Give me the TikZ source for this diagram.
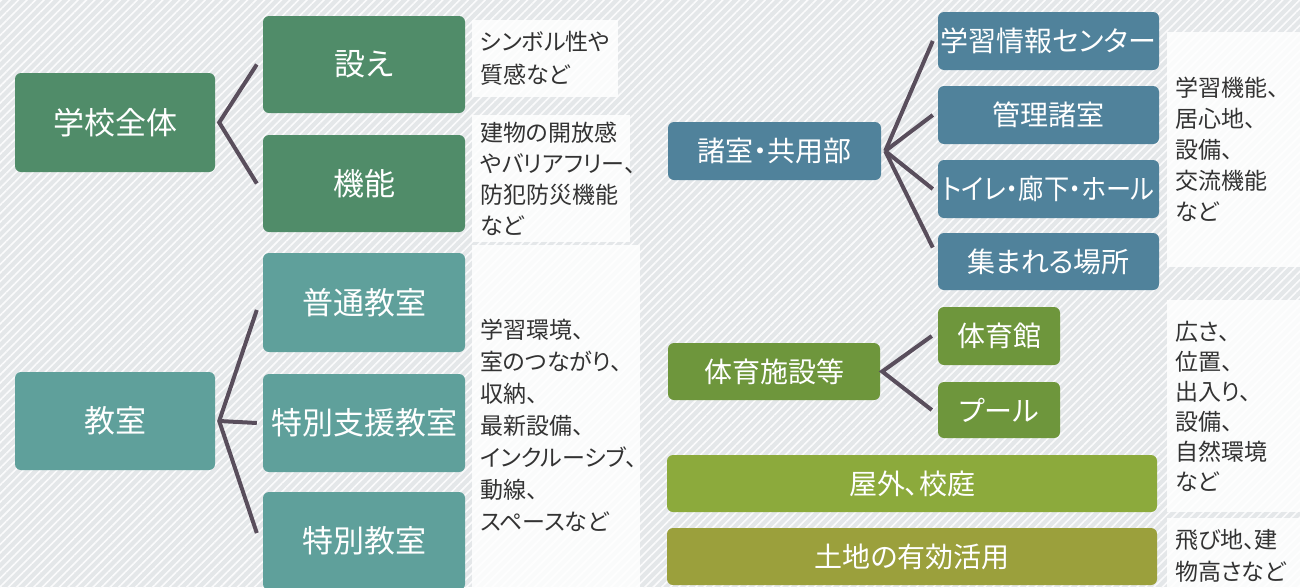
\documentclass[tikz,border=0pt]{standalone}
\usepackage{fontspec}
\usepackage{graphicx}
\usetikzlibrary{patterns.meta}
\newfontfamily\jp{Noto Sans CJK JP}[RawFeature=+palt]
\definecolor{bgcol}{HTML}{E4E7E9}
\definecolor{conncol}{HTML}{594E5C}
\definecolor{txtcol}{HTML}{333333}
\definecolor{schoolcol}{HTML}{508C69}
\definecolor{roomcol}{HTML}{5FA09B}
\definecolor{sharedcol}{HTML}{50829B}
\definecolor{sportcol}{HTML}{6E963C}
\definecolor{yardcol}{HTML}{8CAA3C}
\definecolor{landcol}{HTML}{9BA03C}
\begin{document}
\begin{tikzpicture}[x=1pt,y=-1pt,
box/.style={rounded corners=6pt,text=white,inner sep=0pt,font=\jp\fontsize{31}{36}\selectfont},
rbox/.style={box,font=\jp\fontsize{28}{34}\selectfont},
desc/.style={anchor=north west,fill=white,fill opacity=0.85,text opacity=1,text=txtcol,align=left,inner xsep=8pt,inner ysep=0pt,font=\jp\fontsize{23}{31}\selectfont},
conn/.style={draw=conncol,line width=4pt}]
\useasboundingbox (0,0) rectangle (1300,587);
\fill[bgcol] (0,0) rectangle (1300,587);
\fill[pattern={Lines[angle=45,distance=6pt,line width=1.6pt]},pattern color=white!85!bgcol] (0,0) rectangle (1300,587);
\node[box,fill=schoolcol,minimum width=200,minimum height=99] (whole) at (115,122.5) {学校全体};
\node[box,fill=schoolcol,minimum width=202,minimum height=97] (setsu) at (364,64.5) {設え};
\node[box,fill=schoolcol,minimum width=202,minimum height=97] (kino) at (364,183.5) {機能};
\node[desc,text width=130,minimum height=77,font=\jp\fontsize{23}{33}\selectfont] (d1) at (472,20) {シンボル性や\\質感など};
\node[desc,text width=142,minimum height=127] (d2) at (472,115) {建物の開放感\\やバリアフリー、\\防犯防災機能\\など};
\draw[conn] ([xshift=-6pt]setsu.west) -- ([xshift=4pt]whole.east) -- ([xshift=-6pt]kino.west);
\node[box,fill=roomcol,minimum width=200,minimum height=98] (room) at (115,421) {教室};
\node[box,fill=roomcol,minimum width=202,minimum height=99] (futsu) at (364,302.5) {普通教室};
\node[box,fill=roomcol,minimum width=202,minimum height=98] (shien) at (364,423) {特別支援教室};
\node[box,fill=roomcol,minimum width=202,minimum height=98] (tokubetsu) at (364,541) {特別教室};
\node[desc,text width=152,minimum height=360,font=\jp\fontsize{23}{32}\selectfont] (d3) at (472,245) {学習環境、\\室のつながり、\\収納、\\最新設備、\\インクルーシブ、\\動線、\\スペースなど};
\draw[conn] ([xshift=-6pt,yshift=-7.5pt]futsu.west) -- ([xshift=4pt]room.east) -- ([xshift=-6pt,yshift=8pt]tokubetsu.west);
\draw[conn] ([xshift=4pt]room.east) -- ([xshift=-6pt]shien.west);
\node[rbox,fill=sharedcol,minimum width=213,minimum height=58] (shared) at (774.5,151) {諸室・共用部};
\node[rbox,fill=sharedcol,minimum width=221,minimum height=58] (center) at (1048.5,41) {学習情報センター};
\node[rbox,fill=sharedcol,minimum width=221,minimum height=58] (admin) at (1048.5,115) {管理諸室};
\node[rbox,fill=sharedcol,minimum width=221,minimum height=58] (hall) at (1048.5,189) {\scalebox{0.9}[1]{トイレ・廊下・ホール}};
\node[rbox,fill=sharedcol,minimum width=221,minimum height=57] (meet) at (1048.5,261.5) {集まれる場所};
\node[desc,text width=117,minimum height=235] (d4) at (1167,32) {学習機能、\\居心地、\\設備、\\交流機能\\など};
\draw[conn] ([xshift=4pt]shared.east) -- ([xshift=-5pt]center.west);
\draw[conn] ([xshift=4pt]shared.east) -- ([xshift=-5pt]admin.west);
\draw[conn] ([xshift=4pt]shared.east) -- ([xshift=-5pt]hall.west);
\draw[conn] ([xshift=4pt]shared.east) -- ([xshift=-5pt,yshift=14pt]meet.west);
\node[rbox,fill=sportcol,minimum width=212,minimum height=57] (sport) at (774,371.5) {体育施設等};
\node[rbox,fill=sportcol,minimum width=122,minimum height=58] (gym) at (999,336) {体育館};
\node[rbox,fill=sportcol,minimum width=122,minimum height=56] (pool) at (999,410) {プール};
\draw[conn] ([xshift=-6pt]gym.west) -- ([xshift=2pt]sport.east) -- ([xshift=-6pt]pool.west);
\node[rbox,fill=yardcol,minimum width=490,minimum height=57] (yard) at (912,483.5) {屋外、校庭};
\node[rbox,fill=landcol,minimum width=490,minimum height=57] (land) at (912,556.5) {土地の有効活用};
\node[desc,text width=117,minimum height=212,font=\jp\fontsize{23}{30}\selectfont] (d5) at (1167,300) {広さ、\\位置、\\出入り、\\設備、\\自然環境\\など};
\node[desc,text width=117,minimum height=76,font=\jp\fontsize{23}{32}\selectfont] (d6) at (1167,518) {飛び地、建\\物高さなど};
\end{tikzpicture}
\end{document}
